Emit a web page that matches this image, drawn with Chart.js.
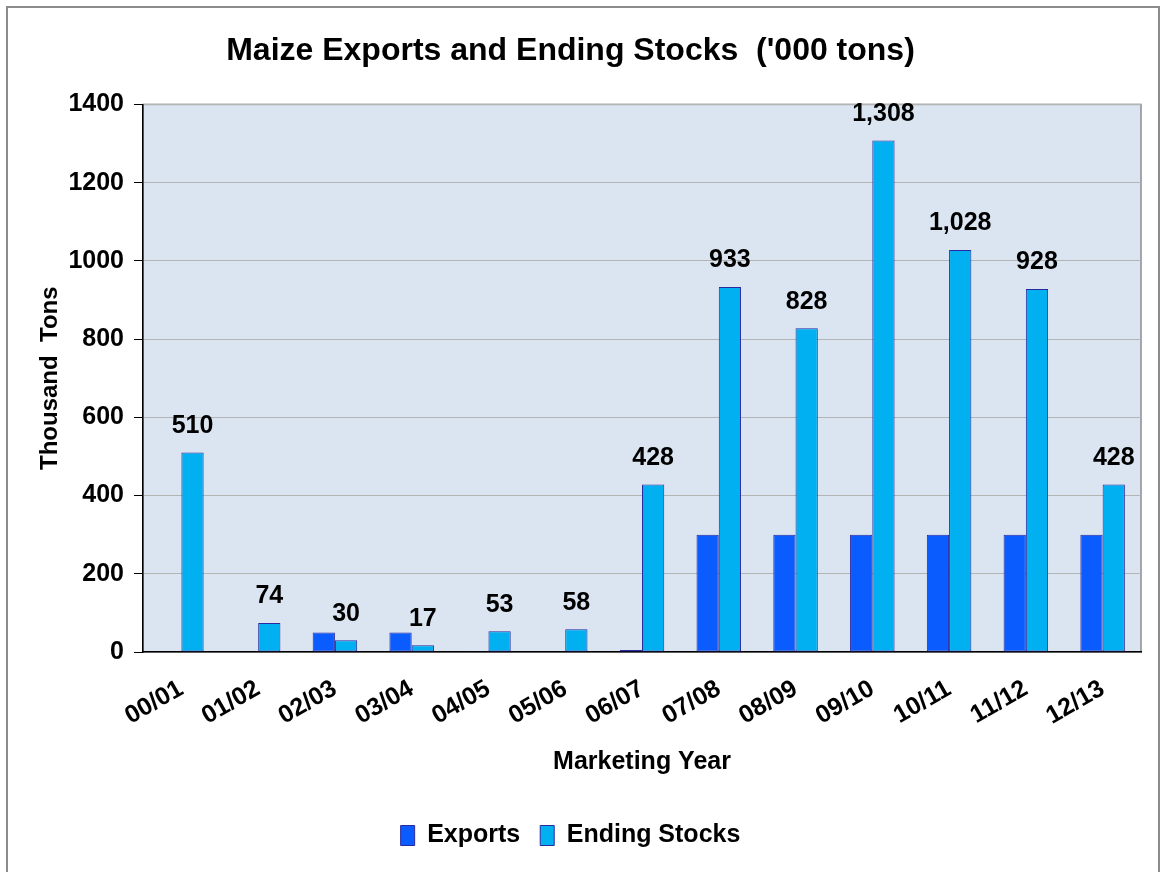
<!DOCTYPE html>
<html>
<head>
<meta charset="utf-8">
<script src="https://cdn.jsdelivr.net/npm/chart.js@4.4.0/dist/chart.umd.min.js"></script>
<style>
  body { margin: 0; background: #fff; }
  #frame { position: absolute; left: 6px; top: 6px; width: 1150px; height: 880px; border: 2px solid #8c8c8c; }
  #wrap { position: absolute; left: 0; top: 0; width: 1164px; height: 872px; }
</style>
</head>
<body>
<div id="frame"></div>
<div id="wrap"><canvas id="myChart" width="1164" height="872"></canvas></div>
<script>
// Marketing years and values ('000 tons)
const years = ['00/01', '01/02', '02/03', '03/04', '04/05', '05/06', '06/07', '07/08', '08/09', '09/10', '10/11', '11/12', '12/13'];
const exportsData = [0, 0, 50, 50, 2, 0, 5, 300, 300, 300, 300, 300, 300];
const endingStocks = [510, 74, 30, 17, 53, 58, 428, 933, 828, 1308, 1028, 928, 428];

const FONT = "'Liberation Sans Narrow', 'Arial Narrow', 'Liberation Sans', Arial, sans-serif";

// Light blue plot background with gray frame
const plotBg = {
    id: 'plotBg',
    beforeDraw(chart) {
        const {ctx, chartArea: a} = chart;
        ctx.save();
        ctx.fillStyle = '#dbe5f1';
        ctx.fillRect(a.left, a.top, a.right - a.left, a.bottom - a.top);
        ctx.strokeStyle = '#8c8c8c';
        ctx.lineWidth = 1.5;
        ctx.strokeRect(a.left, a.top, a.right - a.left, a.bottom - a.top);
        ctx.restore();
    }
};

// Value labels above the Ending Stocks bars
const barLabels = {
    id: 'barLabels',
    afterDatasetsDraw(chart) {
        const ctx = chart.ctx;
        const meta = chart.getDatasetMeta(1);
        ctx.save();
        ctx.font = 'bold 25px ' + FONT;
        ctx.fillStyle = '#000';
        ctx.textAlign = 'center';
        ctx.textBaseline = 'bottom';
        meta.data.forEach((bar, i) => {
            ctx.fillText(endingStocks[i].toLocaleString('en-US'), bar.x, bar.y - 14);
        });
        ctx.restore();
    }
};

const ctx = document.getElementById('myChart').getContext('2d');
const chart = new Chart(ctx, {
    type: 'bar',
    data: {
        labels: years,
        datasets: [{
            label: 'Exports',
            data: exportsData,
            backgroundColor: '#0a5cff',
            borderColor: '#2a2aa0',
            borderWidth: 1,
            borderSkipped: false,
            categoryPercentage: 0.58,
            barPercentage: 1.0
        }, {
            label: 'Ending Stocks',
            data: endingStocks,
            backgroundColor: '#00b0f0',
            borderColor: '#2a2aa0',
            borderWidth: 1,
            borderSkipped: false,
            categoryPercentage: 0.58,
            barPercentage: 1.0
        }]
    },
    options: {
        responsive: false,
        animation: false,
        layout: { padding: { left: 0, right: 23, top: 0, bottom: 14 } },
        plugins: {
            title: {
                display: true,
                text: "Maize Exports and Ending Stocks  ('000 tons)",
                color: '#000',
                font: { family: FONT, size: 32, weight: 'bold' },
                padding: { top: 32, bottom: 34 }
            },
            legend: {
                position: 'bottom',
                labels: {
                    color: '#000',
                    font: { family: FONT, size: 25, weight: 'bold' },
                    boxWidth: 14,
                    boxHeight: 20,
                    padding: 20
                }
            },
            tooltip: { enabled: false }
        },
        scales: {
            x: {
                grid: { display: false },
                border: { color: '#000', width: 1.5 },
                ticks: {
                    color: '#000',
                    font: { family: FONT, size: 25, weight: 'bold' },
                    maxRotation: 30,
                    minRotation: 30,
                    padding: 14
                },
                title: {
                    display: true,
                    text: 'Marketing Year',
                    color: '#000',
                    font: { family: FONT, size: 25, weight: 'bold' },
                    padding: { top: 4, bottom: 26 }
                },
                afterFit(scale) { scale.height = 151; }
            },
            y: {
                min: 0,
                max: 1400,
                border: { color: '#000', width: 1.5 },
                grid: { color: '#b4b4b4', lineWidth: 1, tickColor: '#000', tickLength: 9 },
                ticks: {
                    stepSize: 200,
                    color: '#000',
                    font: { family: FONT, size: 25, weight: 'bold' },
                    padding: 10,
                    callback: v => String(v)
                },
                title: {
                    display: true,
                    text: 'Thousand  Tons',
                    color: '#000',
                    font: { family: FONT, size: 24, weight: 'bold' },
                    padding: { top: 36, bottom: 0 }
                },
                afterFit(scale) { scale.width = 143; }
            }
        }
    },
    plugins: [plotBg, barLabels]
});
</script>
</body>
</html>
